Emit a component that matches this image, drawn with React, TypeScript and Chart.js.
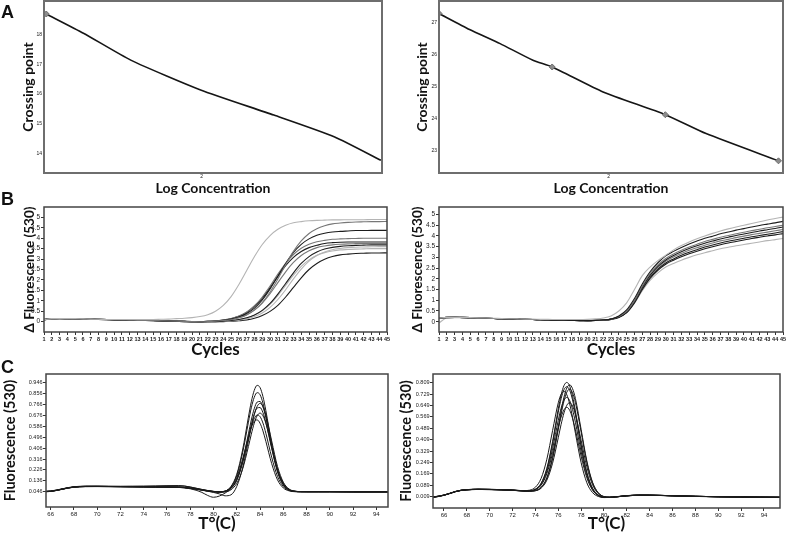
import React, { useEffect, useRef } from 'react';
import { Chart, registerables } from 'chart.js';

Chart.register(...registerables);
Chart.defaults.font.family = 'Liberation Sans';

// ---------------- Panel A : standard curves ----------------
const aLeftLogConc = [0.62, 0.95, 1.37, 1.99, 2.64, 3.18, 3.59];
const aLeftCp = [18.71, 18.06, 17.15, 16.14, 15.29, 14.55, 13.76];
const aLeftMarkers = [true, false, false, false, false, false, false];
const aLeftYTicks = [14, 15, 16, 17, 18];

const aRightLogConc = [0.5, 0.77, 1.04, 1.33, 1.5, 1.95, 2.5, 2.86, 3.5];
const aRightCp = [27.28, 26.78, 26.34, 25.82, 25.61, 24.83, 24.12, 23.53, 22.68];
const aRightMarkers = [true, false, false, false, true, false, true, false, true];
const aRightYTicks = [23, 24, 25, 26, 27];
const aXTicks = [2];

// ---------------- Panel B : amplification curves ----------------
const cycles = [1, 2, 3, 4, 5, 6, 7, 8, 9, 10, 11, 12, 13, 14, 15, 16, 17, 18, 19, 20, 21, 22, 23, 24, 25, 26, 27, 28, 29, 30, 31, 32, 33, 34, 35, 36, 37, 38, 39, 40, 41, 42, 43, 44, 45];
const bYTicks = [0, 0.5, 1, 1.5, 2, 2.5, 3, 3.5, 4, 4.5, 5];

const bLeft1 = [0.1, 0.14, 0.15, 0.15, 0.14, 0.13, 0.12, 0.11, 0.1, 0.1, 0.1, 0.1, 0.1, 0.1, 0.1, 0.11, 0.12, 0.14, 0.16, 0.19, 0.24, 0.33, 0.5, 0.78, 1.2, 1.78, 2.45, 3.12, 3.7, 4.13, 4.43, 4.62, 4.74, 4.8, 4.84, 4.86, 4.87, 4.88, 4.88, 4.89, 4.89, 4.89, 4.9, 4.9, 4.9];
const bLeft2 = [0.1, 0.14, 0.15, 0.15, 0.14, 0.13, 0.12, 0.11, 0.1, 0.09, 0.08, 0.07, 0.06, 0.05, 0.05, 0.04, 0.03, 0.02, 0.01, 0.0, -0.01, 0.0, 0.02, 0.05, 0.09, 0.18, 0.32, 0.55, 0.91, 1.42, 2.05, 2.73, 3.37, 3.87, 4.23, 4.46, 4.6, 4.69, 4.73, 4.76, 4.78, 4.79, 4.8, 4.8, 4.81];
const bLeft3 = [0.11, 0.15, 0.15, 0.14, 0.13, 0.12, 0.11, 0.1, 0.09, 0.08, 0.07, 0.06, 0.06, 0.05, 0.04, 0.03, 0.02, 0.01, 0.0, 0.0, -0.01, 0.01, 0.02, 0.06, 0.12, 0.22, 0.39, 0.65, 1.04, 1.57, 2.18, 2.79, 3.32, 3.71, 3.97, 4.14, 4.24, 4.3, 4.33, 4.35, 4.37, 4.37, 4.38, 4.38, 4.38];
const bLeft4 = [0.09, 0.13, 0.14, 0.14, 0.14, 0.13, 0.12, 0.11, 0.1, 0.09, 0.08, 0.08, 0.07, 0.06, 0.05, 0.04, 0.03, 0.02, 0.01, 0.0, 0.0, 0.01, 0.03, 0.08, 0.15, 0.27, 0.46, 0.76, 1.18, 1.7, 2.28, 2.8, 3.22, 3.52, 3.71, 3.83, 3.9, 3.95, 3.97, 3.98, 3.99, 4.0, 4.0, 4.0, 4.0];
const bLeft5 = [0.1, 0.14, 0.15, 0.15, 0.14, 0.13, 0.12, 0.11, 0.1, 0.09, 0.08, 0.07, 0.06, 0.05, 0.05, 0.04, 0.03, 0.02, 0.01, 0.0, 0.0, 0.01, 0.03, 0.07, 0.14, 0.25, 0.44, 0.73, 1.12, 1.63, 2.17, 2.68, 3.08, 3.36, 3.55, 3.66, 3.75, 3.79, 3.81, 3.82, 3.82, 3.82, 3.82, 3.82, 3.82];
const bLeft6 = [0.11, 0.15, 0.15, 0.14, 0.13, 0.12, 0.11, 0.1, 0.09, 0.08, 0.07, 0.06, 0.06, 0.05, 0.04, 0.03, 0.02, 0.01, 0.0, 0.0, -0.01, 0.0, 0.02, 0.05, 0.1, 0.18, 0.33, 0.56, 0.89, 1.34, 1.87, 2.39, 2.84, 3.17, 3.4, 3.55, 3.63, 3.68, 3.71, 3.73, 3.74, 3.75, 3.75, 3.75, 3.75];
const bLeft7 = [0.09, 0.13, 0.14, 0.14, 0.14, 0.13, 0.12, 0.11, 0.1, 0.09, 0.08, 0.08, 0.07, 0.06, 0.05, 0.04, 0.03, 0.02, 0.01, 0.0, -0.01, -0.01, 0.0, 0.02, 0.05, 0.1, 0.18, 0.32, 0.54, 0.87, 1.32, 1.83, 2.34, 2.79, 3.12, 3.34, 3.48, 3.56, 3.61, 3.64, 3.66, 3.67, 3.68, 3.68, 3.68];
const bLeft8 = [0.1, 0.14, 0.15, 0.15, 0.14, 0.13, 0.12, 0.11, 0.1, 0.09, 0.08, 0.07, 0.06, 0.05, 0.05, 0.04, 0.03, 0.02, 0.01, 0.0, -0.01, -0.01, 0.0, 0.01, 0.03, 0.07, 0.13, 0.24, 0.41, 0.68, 1.06, 1.53, 2.05, 2.52, 2.9, 3.17, 3.34, 3.45, 3.51, 3.55, 3.57, 3.58, 3.59, 3.6, 3.6];
const bLeft9 = [0.11, 0.15, 0.15, 0.14, 0.13, 0.12, 0.11, 0.1, 0.09, 0.08, 0.07, 0.06, 0.06, 0.05, 0.04, 0.03, 0.02, 0.01, 0.0, 0.0, -0.01, -0.01, 0.0, 0.02, 0.04, 0.09, 0.17, 0.31, 0.52, 0.83, 1.25, 1.74, 2.23, 2.65, 2.96, 3.18, 3.31, 3.39, 3.44, 3.46, 3.48, 3.49, 3.5, 3.5, 3.5];
const bLeft10 = [0.09, 0.13, 0.14, 0.14, 0.14, 0.13, 0.12, 0.11, 0.1, 0.09, 0.08, 0.08, 0.07, 0.06, 0.05, 0.04, 0.03, 0.02, 0.01, 0.0, -0.02, -0.01, -0.01, 0.0, 0.01, 0.04, 0.08, 0.16, 0.29, 0.49, 0.78, 1.18, 1.64, 2.1, 2.5, 2.79, 2.99, 3.12, 3.2, 3.24, 3.27, 3.28, 3.29, 3.29, 3.3];

const bRight1 = [0.18, 0.2, 0.2, 0.2, 0.19, 0.18, 0.17, 0.16, 0.15, 0.14, 0.13, 0.12, 0.12, 0.11, 0.11, 0.1, 0.1, 0.1, 0.1, 0.11, 0.13, 0.17, 0.27, 0.5, 0.88, 1.5, 2.15, 2.55, 2.85, 3.1, 3.35, 3.55, 3.72, 3.87, 4.0, 4.12, 4.23, 4.33, 4.42, 4.5, 4.58, 4.66, 4.74, 4.81, 4.88];
const bRight2 = [0.18, 0.2, 0.2, 0.2, 0.19, 0.17, 0.16, 0.15, 0.14, 0.13, 0.12, 0.11, 0.1, 0.09, 0.08, 0.07, 0.07, 0.06, 0.05, 0.05, 0.06, 0.08, 0.12, 0.27, 0.55, 1.08, 1.76, 2.33, 2.75, 3.07, 3.28, 3.46, 3.62, 3.76, 3.89, 3.99, 4.1, 4.18, 4.27, 4.34, 4.42, 4.49, 4.55, 4.61, 4.68];
const bRight3 = [0.17, 0.19, 0.2, 0.19, 0.18, 0.17, 0.16, 0.15, 0.14, 0.13, 0.12, 0.11, 0.1, 0.09, 0.08, 0.08, 0.07, 0.06, 0.06, 0.05, 0.06, 0.07, 0.11, 0.24, 0.48, 0.98, 1.66, 2.24, 2.65, 2.95, 3.16, 3.33, 3.48, 3.61, 3.74, 3.84, 3.94, 4.02, 4.1, 4.17, 4.25, 4.31, 4.38, 4.44, 4.5];
const bRight4 = [0.18, 0.2, 0.2, 0.2, 0.19, 0.17, 0.16, 0.15, 0.14, 0.13, 0.12, 0.11, 0.1, 0.09, 0.08, 0.07, 0.07, 0.06, 0.05, 0.05, 0.06, 0.08, 0.12, 0.22, 0.45, 0.95, 1.6, 2.17, 2.58, 2.88, 3.09, 3.26, 3.41, 3.54, 3.66, 3.76, 3.86, 3.94, 4.02, 4.09, 4.16, 4.23, 4.29, 4.35, 4.42];
const bRight5 = [0.17, 0.19, 0.2, 0.19, 0.18, 0.17, 0.16, 0.15, 0.14, 0.13, 0.12, 0.11, 0.1, 0.09, 0.08, 0.08, 0.07, 0.06, 0.06, 0.05, 0.06, 0.07, 0.11, 0.24, 0.48, 0.97, 1.6, 2.14, 2.53, 2.82, 3.02, 3.18, 3.33, 3.45, 3.57, 3.67, 3.77, 3.84, 3.92, 3.99, 4.06, 4.12, 4.18, 4.24, 4.3];
const bRight6 = [0.18, 0.2, 0.2, 0.2, 0.19, 0.17, 0.16, 0.15, 0.14, 0.13, 0.12, 0.11, 0.1, 0.09, 0.08, 0.07, 0.07, 0.06, 0.05, 0.05, 0.06, 0.08, 0.12, 0.22, 0.44, 0.92, 1.55, 2.08, 2.46, 2.74, 2.93, 3.1, 3.24, 3.36, 3.48, 3.58, 3.67, 3.75, 3.82, 3.89, 3.96, 4.02, 4.08, 4.14, 4.2];
const bRight7 = [0.17, 0.19, 0.2, 0.19, 0.18, 0.17, 0.16, 0.15, 0.14, 0.13, 0.12, 0.11, 0.1, 0.09, 0.08, 0.08, 0.07, 0.06, 0.06, 0.05, 0.06, 0.07, 0.11, 0.2, 0.42, 0.88, 1.5, 2.02, 2.4, 2.68, 2.87, 3.03, 3.17, 3.29, 3.4, 3.5, 3.59, 3.67, 3.74, 3.81, 3.88, 3.94, 4.0, 4.05, 4.11];
const bRight8 = [-0.05, 0.17, 0.19, 0.19, 0.18, 0.17, 0.16, 0.15, 0.14, 0.13, 0.12, 0.11, 0.1, 0.09, 0.08, 0.08, 0.07, 0.06, 0.06, 0.05, 0.06, 0.07, 0.11, 0.2, 0.42, 0.86, 1.45, 1.93, 2.28, 2.55, 2.72, 2.87, 3.0, 3.12, 3.22, 3.31, 3.4, 3.47, 3.54, 3.6, 3.66, 3.72, 3.78, 3.83, 3.88];

// ---------------- Panel C : melting peaks ----------------
const cLeftTemp = [65.6, 66, 66.5, 67, 67.5, 68, 69, 70, 71, 72, 73, 74, 75, 76, 77, 77.5, 78, 78.5, 79, 79.5, 80, 80.5, 81, 81.5, 82, 82.5, 83, 83.25, 83.5, 83.75, 84, 84.25, 84.5, 85, 85.5, 86, 86.5, 87, 87.5, 88, 89, 90, 92, 95];
const cLeftXTicks = [66, 68, 70, 72, 74, 76, 78, 80, 82, 84, 86, 88, 90, 92, 94];
const cLeftYTicks = [0.046, 0.136, 0.226, 0.316, 0.406, 0.496, 0.586, 0.676, 0.766, 0.856, 0.946];
const cLeft1 = [0.05, 0.052, 0.06, 0.07, 0.08, 0.087, 0.092, 0.092, 0.091, 0.09, 0.089, 0.088, 0.087, 0.086, 0.086, 0.083, 0.077, 0.07, 0.062, 0.054, 0.048, 0.045, 0.051, 0.089, 0.19, 0.39, 0.662, 0.789, 0.882, 0.924, 0.906, 0.832, 0.716, 0.441, 0.223, 0.105, 0.061, 0.048, 0.046, 0.046, 0.046, 0.046, 0.045, 0.045];
const cLeft2 = [0.048, 0.05, 0.058, 0.068, 0.078, 0.085, 0.09, 0.09, 0.089, 0.088, 0.087, 0.086, 0.085, 0.084, 0.083, 0.08, 0.075, 0.068, 0.06, 0.052, 0.046, 0.043, 0.051, 0.085, 0.18, 0.366, 0.62, 0.739, 0.825, 0.864, 0.847, 0.778, 0.67, 0.414, 0.211, 0.101, 0.06, 0.048, 0.046, 0.046, 0.046, 0.046, 0.045, 0.045];
const cLeft3 = [0.046, 0.048, 0.056, 0.066, 0.076, 0.083, 0.088, 0.089, 0.089, 0.089, 0.09, 0.09, 0.092, 0.094, 0.095, 0.092, 0.084, 0.074, 0.064, 0.055, 0.048, 0.044, 0.047, 0.073, 0.145, 0.299, 0.524, 0.638, 0.731, 0.786, 0.791, 0.746, 0.659, 0.429, 0.227, 0.11, 0.063, 0.049, 0.046, 0.046, 0.046, 0.046, 0.045, 0.045];
const cLeft4 = [0.048, 0.05, 0.058, 0.068, 0.078, 0.085, 0.09, 0.09, 0.089, 0.088, 0.087, 0.086, 0.085, 0.084, 0.083, 0.08, 0.075, 0.068, 0.06, 0.05, 0.04, 0.028, 0.012, 0.02, 0.09, 0.24, 0.465, 0.579, 0.681, 0.75, 0.775, 0.75, 0.681, 0.465, 0.255, 0.125, 0.068, 0.05, 0.047, 0.046, 0.046, 0.046, 0.045, 0.045];
const cLeft5 = [0.047, 0.049, 0.057, 0.067, 0.077, 0.084, 0.089, 0.089, 0.088, 0.087, 0.086, 0.085, 0.084, 0.083, 0.082, 0.078, 0.07, 0.058, 0.04, 0.015, 0.0, 0.01, 0.035, 0.071, 0.139, 0.282, 0.492, 0.599, 0.686, 0.737, 0.741, 0.699, 0.618, 0.403, 0.214, 0.106, 0.062, 0.049, 0.046, 0.046, 0.046, 0.046, 0.045, 0.045];
const cLeft6 = [0.046, 0.048, 0.056, 0.066, 0.076, 0.083, 0.088, 0.088, 0.087, 0.086, 0.085, 0.084, 0.083, 0.082, 0.081, 0.078, 0.073, 0.066, 0.058, 0.05, 0.044, 0.041, 0.044, 0.062, 0.115, 0.232, 0.419, 0.521, 0.611, 0.673, 0.695, 0.673, 0.611, 0.419, 0.232, 0.116, 0.065, 0.05, 0.047, 0.046, 0.046, 0.046, 0.045, 0.045];
const cLeft7 = [0.047, 0.049, 0.057, 0.067, 0.077, 0.084, 0.089, 0.09, 0.09, 0.09, 0.091, 0.092, 0.093, 0.095, 0.096, 0.093, 0.085, 0.075, 0.065, 0.056, 0.049, 0.045, 0.048, 0.076, 0.149, 0.294, 0.49, 0.582, 0.649, 0.679, 0.666, 0.613, 0.529, 0.331, 0.173, 0.088, 0.056, 0.047, 0.046, 0.046, 0.046, 0.046, 0.045, 0.045];
const cLeft8 = [0.048, 0.05, 0.058, 0.068, 0.078, 0.085, 0.09, 0.09, 0.089, 0.088, 0.087, 0.086, 0.085, 0.084, 0.083, 0.08, 0.075, 0.068, 0.06, 0.052, 0.046, 0.045, 0.051, 0.082, 0.164, 0.313, 0.498, 0.577, 0.627, 0.639, 0.611, 0.548, 0.462, 0.278, 0.144, 0.077, 0.053, 0.046, 0.046, 0.046, 0.046, 0.046, 0.045, 0.045];

const cRightTemp = [65, 65.5, 66, 66.5, 67, 67.5, 68, 69, 70, 71, 72, 73, 73.5, 74, 74.5, 75, 75.5, 76, 76.25, 76.5, 76.75, 77, 77.25, 77.5, 78, 78.5, 79, 79.5, 80, 80.5, 81, 82, 83, 84, 86, 88, 90, 92, 95.4];
const cRightXTicks = [66, 68, 70, 72, 74, 76, 78, 80, 82, 84, 86, 88, 90, 92, 94];
const cRightYTicks = [0.009, 0.089, 0.169, 0.249, 0.329, 0.409, 0.489, 0.569, 0.649, 0.729, 0.809];
const cRight1 = [0.006, 0.012, 0.02, 0.032, 0.045, 0.054, 0.058, 0.061, 0.06, 0.058, 0.055, 0.05, 0.051, 0.062, 0.104, 0.208, 0.395, 0.625, 0.723, 0.789, 0.811, 0.785, 0.714, 0.611, 0.374, 0.18, 0.069, 0.021, 0.006, 0.005, 0.008, 0.016, 0.02, 0.02, 0.016, 0.012, 0.009, 0.007, 0.005];
const cRight2 = [0.004, 0.01, 0.019, 0.031, 0.044, 0.053, 0.057, 0.06, 0.059, 0.057, 0.054, 0.049, 0.049, 0.052, 0.075, 0.142, 0.285, 0.499, 0.611, 0.708, 0.772, 0.794, 0.767, 0.698, 0.481, 0.26, 0.11, 0.037, 0.01, 0.006, 0.009, 0.017, 0.021, 0.02, 0.016, 0.012, 0.009, 0.007, 0.005];
const cRight3 = [0.007, 0.013, 0.021, 0.033, 0.046, 0.055, 0.059, 0.062, 0.061, 0.059, 0.056, 0.051, 0.051, 0.061, 0.101, 0.201, 0.381, 0.602, 0.697, 0.76, 0.781, 0.756, 0.688, 0.588, 0.36, 0.173, 0.066, 0.02, 0.006, 0.005, 0.008, 0.015, 0.019, 0.019, 0.015, 0.011, 0.009, 0.007, 0.005];
const cRight4 = [0.005, 0.011, 0.02, 0.032, 0.045, 0.054, 0.058, 0.061, 0.06, 0.058, 0.055, 0.049, 0.048, 0.052, 0.074, 0.138, 0.275, 0.481, 0.589, 0.681, 0.743, 0.764, 0.738, 0.671, 0.463, 0.25, 0.106, 0.036, 0.01, 0.005, 0.008, 0.016, 0.02, 0.02, 0.016, 0.012, 0.009, 0.007, 0.005];
const cRight5 = [0.006, 0.012, 0.02, 0.032, 0.045, 0.054, 0.058, 0.061, 0.06, 0.058, 0.055, 0.052, 0.055, 0.076, 0.138, 0.272, 0.472, 0.668, 0.728, 0.748, 0.724, 0.66, 0.565, 0.455, 0.248, 0.107, 0.038, 0.011, 0.003, 0.004, 0.007, 0.015, 0.019, 0.019, 0.016, 0.012, 0.009, 0.007, 0.005];
const cRight6 = [0.005, 0.011, 0.019, 0.031, 0.044, 0.053, 0.057, 0.06, 0.059, 0.057, 0.054, 0.05, 0.05, 0.06, 0.095, 0.185, 0.346, 0.545, 0.63, 0.687, 0.706, 0.683, 0.621, 0.531, 0.325, 0.157, 0.06, 0.019, 0.005, 0.005, 0.008, 0.016, 0.02, 0.02, 0.016, 0.012, 0.009, 0.007, 0.005];
const cRight7 = [0.006, 0.012, 0.02, 0.032, 0.045, 0.054, 0.058, 0.061, 0.06, 0.058, 0.055, 0.049, 0.048, 0.051, 0.069, 0.125, 0.244, 0.423, 0.517, 0.597, 0.651, 0.669, 0.646, 0.587, 0.405, 0.219, 0.093, 0.031, 0.009, 0.005, 0.008, 0.016, 0.02, 0.02, 0.016, 0.012, 0.009, 0.007, 0.005];
const cRight8 = [0.007, 0.013, 0.021, 0.033, 0.046, 0.055, 0.059, 0.062, 0.061, 0.059, 0.056, 0.051, 0.05, 0.058, 0.09, 0.17, 0.314, 0.493, 0.568, 0.619, 0.636, 0.615, 0.559, 0.479, 0.293, 0.142, 0.055, 0.017, 0.005, 0.005, 0.008, 0.015, 0.019, 0.019, 0.015, 0.011, 0.009, 0.007, 0.005];

// ---------------- helpers ----------------
const TITLE_FONT = 'Lato';
const TICK_FONT = 'Liberation Sans';
const DARK = '#1c1c1c';
const MID = '#777777';
const LIGHT = '#b4b4b4';

const framePlugin = {
  id: 'frame',
  afterDatasetsDraw(chart: any, _args: any, opts: any) {
    const { ctx, chartArea } = chart;
    const { left, top, right, bottom } = chartArea;
    ctx.save();
    ctx.strokeStyle = opts.color || '#444';
    ctx.lineWidth = opts.width || 1.5;
    ctx.strokeRect(left, top, right - left, bottom - top);
    ctx.restore();
  },
};

interface AxisSpec {
  min: number;
  max: number;
  ticks: number[];
  fmt: (v: number) => string;
  size: number;
  tickFont: number;
  tickBold?: boolean;
  tickLen: number;
  tickPad: number;
  title: string;
  titleSize: number;
  titlePad: number;
}

function axis(a: AxisSpec, horizontal: boolean) {
  return {
    type: 'linear',
    position: horizontal ? 'bottom' : 'left',
    bounds: 'data',
    min: a.min,
    max: a.max,
    afterBuildTicks: (s: any) => {
      s.ticks = a.ticks.map((v) => ({ value: v }));
    },
    afterFit: (s: any) => {
      if (horizontal) s.height = a.size;
      else s.width = a.size;
    },
    ticks: {
      autoSkip: false,
      maxRotation: 0,
      minRotation: 0,
      padding: a.tickPad,
      color: '#1a1a1a',
      font: { family: TICK_FONT, size: a.tickFont, weight: a.tickBold ? 'bold' : 'normal', lineHeight: 1.1 },
      callback: (v: number) => a.fmt(Number(v)),
    },
    grid: {
      display: a.tickLen > 0,
      drawOnChartArea: false,
      drawTicks: a.tickLen > 0,
      tickLength: a.tickLen,
      color: '#333333',
      lineWidth: 1,
    },
    border: { display: false },
    title: {
      display: true,
      text: a.title,
      color: '#111111',
      font: { family: TITLE_FONT, size: a.titleSize, weight: 'bold', lineHeight: 1.2 },
      padding: horizontal ? { top: 0, bottom: a.titlePad } : { top: a.titlePad, bottom: 0 },
    },
  };
}

const toXY = (xs: number[], ys: number[]) => xs.map((x, i) => ({ x, y: ys[i] }));

function curve(xs: number[], ys: number[], color: string, width: number) {
  return {
    data: toXY(xs, ys),
    borderColor: color,
    borderWidth: width,
    pointRadius: 0,
    fill: false,
    cubicInterpolationMode: 'monotone',
  };
}

function standardLine(xs: number[], ys: number[], markers: boolean[]) {
  return {
    data: toXY(xs, ys),
    borderColor: '#151515',
    borderWidth: 1.6,
    tension: 0.2,
    fill: false,
    pointRadius: markers.map((m) => (m ? 3 : 0)),
    pointStyle: 'rectRot',
    pointBackgroundColor: '#8c8c8c',
    pointBorderColor: '#6c6c6c',
    pointBorderWidth: 1,
  };
}

function makeConfig(datasets: any[], x: any, y: any, padding: any, frame: any) {
  return {
    type: 'line',
    data: { datasets },
    options: {
      animation: false,
      responsive: false,
      maintainAspectRatio: false,
      events: [],
      layout: { padding },
      plugins: { legend: { display: false }, tooltip: { enabled: false }, frame },
      scales: { x, y },
    },
    plugins: [framePlugin],
  };
}

const intFmt = (v: number) => String(Math.round(v));
const halfFmt = (v: number) => String(Math.round(v * 10) / 10);
const milliFmt = (v: number) => v.toFixed(3);

interface PanelSpec {
  left: number;
  top: number;
  width: number;
  height: number;
  config: any;
}

const panels: PanelSpec[] = [
  // A left
  {
    left: 0, top: -10, width: 390, height: 210,
    config: makeConfig(
      [standardLine(aLeftLogConc, aLeftCp, aLeftMarkers)],
      axis({ min: 0.6, max: 3.6, ticks: aXTicks, fmt: intFmt, size: 27, tickFont: 5, tickLen: 0, tickPad: 1, title: 'Log Concentration', titleSize: 14, titlePad: 3.6 }, true),
      axis({ min: 13.33, max: 19.15, ticks: aLeftYTicks, fmt: intFmt, size: 44, tickFont: 5, tickLen: 0, tickPad: 2, title: 'Crossing point', titleSize: 14, titlePad: 19.6 }, false),
      { top: 11, right: 8, left: 0, bottom: 0 },
      { color: '#6e6e6e', width: 2 }
    ),
  },
  // A right
  {
    left: 395, top: -10, width: 398, height: 210,
    config: makeConfig(
      [standardLine(aRightLogConc, aRightCp, aRightMarkers)],
      axis({ min: 0.5, max: 3.54, ticks: aXTicks, fmt: intFmt, size: 27, tickFont: 5, tickLen: 0, tickPad: 1, title: 'Log Concentration', titleSize: 14, titlePad: 3.6 }, true),
      axis({ min: 22.3, max: 27.67, ticks: aRightYTicks, fmt: intFmt, size: 44, tickFont: 5, tickLen: 0, tickPad: 2, title: 'Crossing point', titleSize: 14, titlePad: 18.6 }, false),
      { top: 11, right: 10, left: 0, bottom: 0 },
      { color: '#6e6e6e', width: 2 }
    ),
  },
  // B left
  {
    left: 0, top: 197, width: 395, height: 165,
    config: makeConfig(
      [
        curve(cycles, bLeft1, LIGHT, 1.1),
        curve(cycles, bLeft2, MID, 1.1),
        curve(cycles, bLeft3, DARK, 1.1),
        curve(cycles, bLeft4, MID, 1.1),
        curve(cycles, bLeft5, DARK, 1.1),
        curve(cycles, bLeft6, MID, 1.1),
        curve(cycles, bLeft7, DARK, 1.1),
        curve(cycles, bLeft8, LIGHT, 1.1),
        curve(cycles, bLeft9, LIGHT, 1.1),
        curve(cycles, bLeft10, DARK, 1.1),
      ],
      axis({ min: 1, max: 45, ticks: cycles, fmt: intFmt, size: 30, tickFont: 5.5, tickBold: true, tickLen: 3, tickPad: 1, title: 'Cycles', titleSize: 17, titlePad: 1.8 }, true),
      axis({ min: -0.5, max: 5.5, ticks: bYTicks, fmt: halfFmt, size: 44, tickFont: 6.5, tickLen: 3, tickPad: 1, title: 'Δ Fluorescence (530)', titleSize: 13.5, titlePad: 21.9 }, false),
      { top: 10, right: 8, left: 0, bottom: 0 },
      { color: '#444444', width: 1.5 }
    ),
  },
  // B right
  {
    left: 395, top: 197, width: 398, height: 165,
    config: makeConfig(
      [
        curve(cycles, bRight1, LIGHT, 1.1),
        curve(cycles, bRight2, DARK, 1.1),
        curve(cycles, bRight3, MID, 1.1),
        curve(cycles, bRight4, DARK, 1.1),
        curve(cycles, bRight5, MID, 1.1),
        curve(cycles, bRight6, DARK, 1.1),
        curve(cycles, bRight7, DARK, 1.1),
        curve(cycles, bRight8, LIGHT, 1.1),
      ],
      axis({ min: 1, max: 45, ticks: cycles, fmt: intFmt, size: 30, tickFont: 5.5, tickBold: true, tickLen: 3, tickPad: 1, title: 'Cycles', titleSize: 17, titlePad: 1.8 }, true),
      axis({ min: -0.48, max: 5.35, ticks: bYTicks, fmt: halfFmt, size: 44, tickFont: 6.5, tickLen: 3, tickPad: 1, title: 'Δ Fluorescence (530)', titleSize: 13.5, titlePad: 14.9 }, false),
      { top: 10, right: 10, left: 0, bottom: 0 },
      { color: '#444444', width: 1.5 }
    ),
  },
  // C left
  {
    left: 0, top: 364, width: 396, height: 171,
    config: makeConfig(
      [cLeft1, cLeft2, cLeft3, cLeft4, cLeft5, cLeft6, cLeft7, cLeft8].map((ys) => curve(cLeftTemp, ys, '#1a1a1a', 1)),
      axis({ min: 65.6, max: 95, ticks: cLeftXTicks, fmt: intFmt, size: 28, tickFont: 6, tickLen: 3, tickPad: 1, title: 'T°(C)', titleSize: 17, titlePad: 0.8 }, true),
      axis({ min: -0.0804, max: 1.018, ticks: cLeftYTicks, fmt: milliFmt, size: 46, tickFont: 5.5, tickLen: 3, tickPad: 0.5, title: 'Fluorescence (530)', titleSize: 14.5, titlePad: 1.3 }, false),
      { top: 10, right: 8, left: 0, bottom: 0 },
      { color: '#444444', width: 1.5 }
    ),
  },
  // C right
  {
    left: 395, top: 364, width: 393, height: 171,
    config: makeConfig(
      [cRight1, cRight2, cRight3, cRight4, cRight5, cRight6, cRight7, cRight8].map((ys) => curve(cRightTemp, ys, '#1a1a1a', 1)),
      axis({ min: 65.04, max: 95.4, ticks: cRightXTicks, fmt: intFmt, size: 27, tickFont: 6, tickLen: 3, tickPad: 1, title: 'T°(C)', titleSize: 17, titlePad: 0.8 }, true),
      axis({ min: -0.07, max: 0.87, ticks: cRightYTicks, fmt: milliFmt, size: 38, tickFont: 5.5, tickLen: 3, tickPad: 0.5, title: 'Fluorescence (530)', titleSize: 14.5, titlePad: 2.3 }, false),
      { top: 10, right: 8, left: 0, bottom: 0 },
      { color: '#444444', width: 1.5 }
    ),
  },
];

const panelLetters = [
  { text: 'A', left: 1, top: 2.6 },
  { text: 'B', left: 1, top: 189.6 },
  { text: 'C', left: 1, top: 357.6 },
];

function ChartCanvas({ spec }: { spec: PanelSpec }) {
  const ref = useRef<HTMLCanvasElement>(null);
  useEffect(() => {
    if (!ref.current) return;
    const chart = new Chart(ref.current, spec.config);
    return () => chart.destroy();
  }, [spec]);
  return (
    <canvas
      ref={ref}
      width={spec.width}
      height={spec.height}
      style={{ position: 'absolute', left: spec.left, top: spec.top, width: spec.width, height: spec.height }}
    />
  );
}

export default function App() {
  return (
    <div style={{ position: 'absolute', left: 0, top: 0, width: 788, height: 535, overflow: 'hidden', background: '#ffffff' }}>
      {panels.map((p, i) => (
        <ChartCanvas key={i} spec={p} />
      ))}
      {panelLetters.map((l) => (
        <div
          key={l.text}
          style={{
            position: 'absolute',
            left: l.left,
            top: l.top,
            fontFamily: 'Liberation Sans, Arial, sans-serif',
            fontWeight: 'bold',
            fontSize: 18,
            lineHeight: '18px',
            color: '#111',
          }}
        >
          {l.text}
        </div>
      ))}
    </div>
  );
}
